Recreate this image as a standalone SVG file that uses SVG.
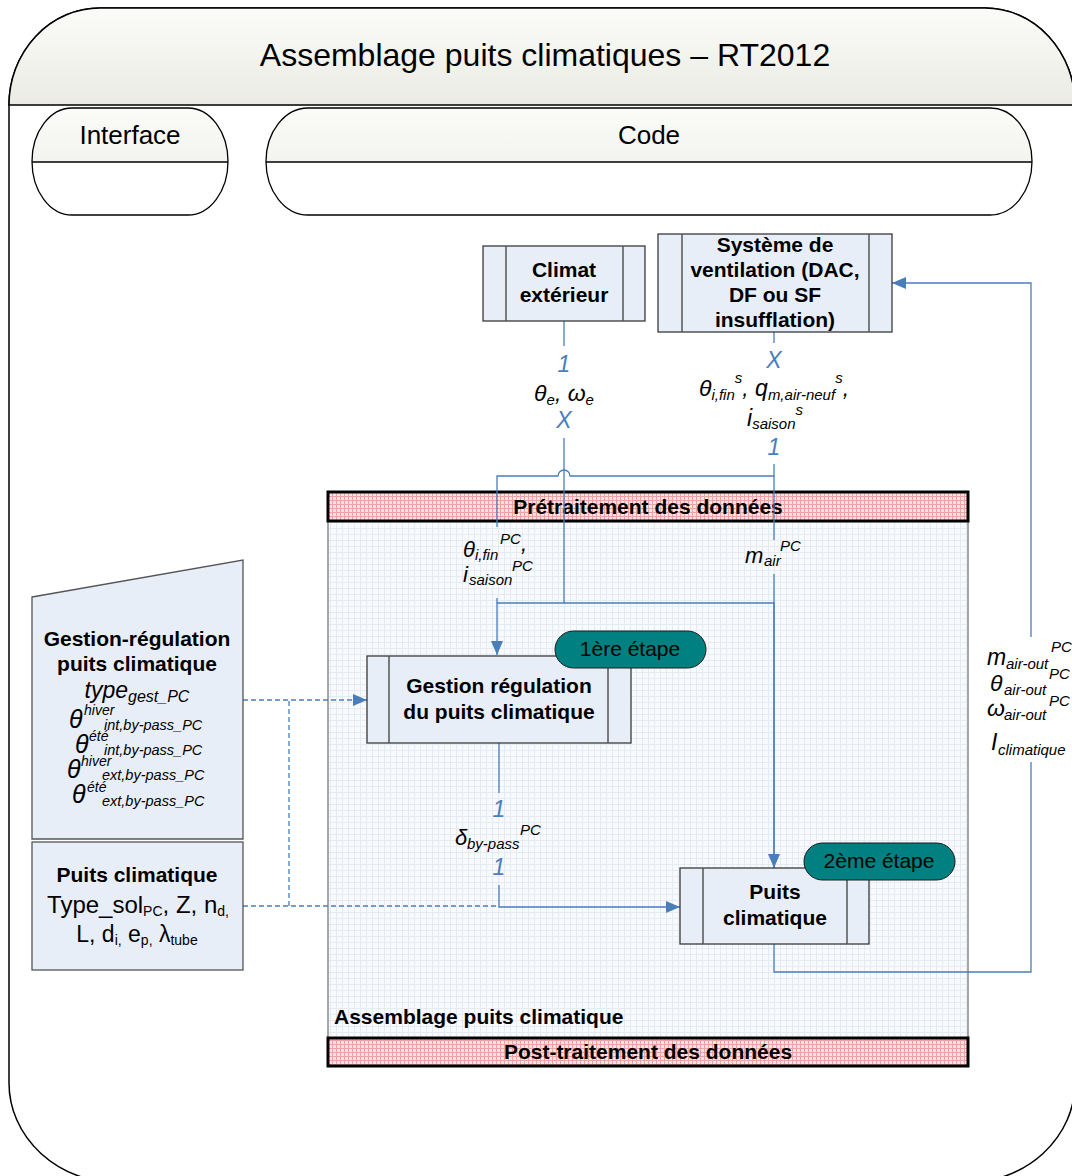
<svg xmlns="http://www.w3.org/2000/svg" width="1072" height="1176" viewBox="0 0 1072 1176">
<defs>
<style>
text{font-family:"Liberation Sans",Arial,sans-serif;fill:#000}
.b{font-weight:bold;font-size:21px}
.it{font-style:italic}
.bl{fill:#4a7ebb;font-style:italic;font-size:23px}
.conn{fill:none;stroke:#4a7ebb;stroke-width:1.3}
.dash{stroke-dasharray:5 3}
.box{fill:#e8eef8;stroke:#3a3a3a;stroke-width:1.3}
.inner{stroke:#555;stroke-width:1.5}
.pill{fill:#008080;stroke:#1a1a1a;stroke-width:1}
.band{fill:url(#pinkGrid);stroke:#000;stroke-width:3}
</style>
<linearGradient id="hdr" x1="0" y1="0" x2="0" y2="1">
<stop offset="0" stop-color="#fbfbf9"/><stop offset="1" stop-color="#ebebe4"/>
</linearGradient>
<pattern id="pinkGrid" width="4" height="4" patternUnits="userSpaceOnUse">
<rect width="4" height="4" fill="#f9e2e2"/><path d="M0 0.5H4M0.5 0V4" stroke="#e7a6a6" stroke-width="1"/>
</pattern>
<pattern id="blueGrid" width="6" height="6" patternUnits="userSpaceOnUse">
<rect width="6" height="6" fill="#f8fafd"/><path d="M0 0.5H6M0.5 0V6" stroke="#e5ebf3" stroke-width="1"/>
</pattern>
<clipPath id="laneTop"><rect x="0" y="100" width="1072" height="62"/></clipPath>
<marker id="arr" viewBox="0 0 10 10" refX="10" refY="5" markerWidth="14" markerHeight="12" markerUnits="userSpaceOnUse" orient="auto" preserveAspectRatio="none">
<path d="M0,0 L10,5 L0,10 z" fill="#4a7ebb"/>
</marker>
</defs>

<g id="pool">
<path d="M100,8 H985 A90 97 0 0 1 1075 105 V1083 A110 100 0 0 1 965 1183 H119 A110 100 0 0 1 9 1083 V105 A91 97 0 0 1 100 8 Z" fill="#fff" stroke="#000" stroke-width="1.5"/>
<path d="M9,105 A91 97 0 0 1 100 8 H985 A90 97 0 0 1 1075 105 Z" fill="url(#hdr)" stroke="#000" stroke-width="1.5"/>
<text x="545" y="66" text-anchor="middle" font-size="32">Assemblage puits climatiques – RT2012</text>
</g>

<g id="lane-interface">
<rect x="32" y="108" width="196" height="107" rx="40" ry="53.5" fill="#fff"/>
<rect x="32" y="108" width="196" height="107" rx="40" ry="53.5" fill="url(#hdr)" clip-path="url(#laneTop)"/>
<rect x="32" y="108" width="196" height="107" rx="40" ry="53.5" fill="none" stroke="#000" stroke-width="1.3"/>
<line x1="32" y1="162" x2="228" y2="162" stroke="#000" stroke-width="1.3"/>
<text x="130" y="144" text-anchor="middle" font-size="26">Interface</text>
</g>

<g id="lane-code">
<rect x="266" y="108" width="766" height="107" rx="42" ry="53.5" fill="#fff"/>
<rect x="266" y="108" width="766" height="107" rx="42" ry="53.5" fill="url(#hdr)" clip-path="url(#laneTop)"/>
<rect x="266" y="108" width="766" height="107" rx="42" ry="53.5" fill="none" stroke="#000" stroke-width="1.3"/>
<line x1="266" y1="162" x2="1032" y2="162" stroke="#000" stroke-width="1.3"/>
<text x="649" y="144" text-anchor="middle" font-size="26">Code</text>
</g>

<g id="assemblage">
<rect x="328" y="492" width="640" height="574" fill="url(#blueGrid)" stroke="#8a8a8a" stroke-width="1.5"/>
<rect x="328" y="492" width="640" height="29" class="band"/>
<text x="648" y="514" text-anchor="middle" class="b">Prétraitement des données</text>
<text x="334" y="1024" class="b">Assemblage puits climatique</text>
<rect x="328" y="1038" width="640" height="28" class="band"/>
<text x="648" y="1059" text-anchor="middle" class="b">Post-traitement des données</text>
</g>

<g id="connectors">
<path class="conn" d="M564,321 V346 M564,438 V603 H497 V655" marker-end="url(#arr)"/>
<path class="conn" d="M564,603 H774 V868" marker-end="url(#arr)"/>
<path class="conn" d="M774,332 V343 M774,464 V476 H570 A6 6 0 0 0 558 476 H497 V527 M497,598 V603"/>
<path class="conn" d="M774,476 V540 M774,574 V868"/>
<path class="conn" d="M499,743 V793 M499,885 V907 H680" marker-end="url(#arr)"/>
<path class="conn" d="M774,944 V972 H1031 V762 M1031,637 V283 H892" marker-end="url(#arr)"/>
<path class="conn dash" d="M243,700 H367" marker-end="url(#arr)"/>
<path class="conn dash" d="M243,906 H497 M289,906 V700"/>
</g>

<g id="climat-exterieur">
<rect x="483" y="246" width="162" height="75" class="box"/>
<line x1="506" y1="246" x2="506" y2="321" class="inner"/>
<line x1="623" y1="246" x2="623" y2="321" class="inner"/>
<text x="564" y="277" text-anchor="middle" class="b">Climat</text>
<text x="564" y="302" text-anchor="middle" class="b">extérieur</text>
</g>

<g id="systeme-ventilation">
<rect x="658" y="234" width="234" height="98" class="box"/>
<line x1="682" y1="234" x2="682" y2="332" class="inner"/>
<line x1="869" y1="234" x2="869" y2="332" class="inner"/>
<text x="775" y="252" text-anchor="middle" class="b">Système de</text>
<text x="775" y="277" text-anchor="middle" class="b">ventilation (DAC,</text>
<text x="775" y="302" text-anchor="middle" class="b">DF ou SF</text>
<text x="775" y="327" text-anchor="middle" class="b">insufflation)</text>
</g>

<g id="gestion-regulation">
<rect x="367" y="656" width="264" height="87" class="box"/>
<line x1="389" y1="656" x2="389" y2="743" class="inner"/>
<line x1="608" y1="656" x2="608" y2="743" class="inner"/>
<text x="499" y="693" text-anchor="middle" class="b">Gestion régulation</text>
<text x="499" y="719" text-anchor="middle" class="b">du puits climatique</text>
</g>

<g id="etape1">
<rect x="555" y="631" width="151" height="37" rx="18.5" class="pill"/>
<text x="630" y="656" text-anchor="middle" font-size="21">1ère étape</text>
</g>

<g id="puits-climatique">
<rect x="680" y="868" width="189" height="76" class="box"/>
<line x1="703" y1="868" x2="703" y2="944" class="inner"/>
<line x1="847" y1="868" x2="847" y2="944" class="inner"/>
<text x="775" y="899" text-anchor="middle" class="b">Puits</text>
<text x="775" y="925" text-anchor="middle" class="b">climatique</text>
</g>

<g id="etape2">
<rect x="804" y="843" width="151" height="37" rx="18.5" class="pill"/>
<text x="879" y="868" text-anchor="middle" font-size="21">2ème étape</text>
</g>

<g id="input-gestion-regulation">
<polygon points="32,597 243,560 243,839 32,839" class="box" style="stroke:#555"/>
<text x="137" y="646" text-anchor="middle" class="b">Gestion-régulation</text>
<text x="137" y="671" text-anchor="middle" class="b">puits climatique</text>
<text x="137" y="698" text-anchor="middle" class="it" font-size="23">type<tspan font-size="16" dy="4">gest_PC</tspan></text>
<text x="69" y="728" class="it" font-size="25">θ</text>
<text x="84" y="715" class="it" font-size="14">hiver</text>
<text x="104" y="730" class="it" font-size="14.5">int,by-pass_PC</text>
<text x="75" y="753" class="it" font-size="25">θ</text>
<text x="89" y="741" class="it" font-size="14">été</text>
<text x="104" y="755" class="it" font-size="14.5">int,by-pass_PC</text>
<text x="67" y="778" class="it" font-size="25">θ</text>
<text x="81" y="766" class="it" font-size="14">hiver</text>
<text x="102" y="780" class="it" font-size="14.5">ext,by-pass_PC</text>
<text x="72" y="803" class="it" font-size="25">θ</text>
<text x="87" y="792" class="it" font-size="14">été</text>
<text x="102" y="806" class="it" font-size="14.5">ext,by-pass_PC</text>
</g>

<g id="input-puits-climatique">
<rect x="32" y="842" width="211" height="128" class="box" style="stroke:#555"/>
<text x="137" y="882" text-anchor="middle" class="b">Puits climatique</text>
<text x="138" y="913" text-anchor="middle" font-size="24">Type_sol<tspan font-size="14" dy="3">PC</tspan><tspan dy="-3">, Z, n</tspan><tspan font-size="14" dy="3">d,</tspan></text>
<text x="137" y="942" text-anchor="middle" font-size="23">L, d<tspan font-size="14" dy="3">i,</tspan><tspan dy="-3"> e</tspan><tspan font-size="14" dy="3">p,</tspan><tspan dy="-3"> λ</tspan><tspan font-size="14" dy="3">tube</tspan></text>
</g>

<g id="labels">
<text x="564" y="372" text-anchor="middle" class="bl">1</text>
<text x="564" y="401" text-anchor="middle" class="it" font-size="23">θ<tspan font-size="15" dy="4">e</tspan><tspan dy="-4">, ω</tspan><tspan font-size="15" dy="4">e</tspan></text>
<text x="564" y="428" text-anchor="middle" class="bl">X</text>

<text x="774" y="368" text-anchor="middle" class="bl">X</text>
<text x="774" y="396" text-anchor="middle" class="it" font-size="23">θ<tspan font-size="15" dy="4">i,fin</tspan><tspan font-size="15" dy="-17">s</tspan><tspan dy="13">, q</tspan><tspan font-size="15" dy="4">m,air-neuf</tspan><tspan font-size="15" dy="-17">s</tspan><tspan dy="13">,</tspan></text>
<text x="775" y="426" text-anchor="middle" class="it" font-size="23">i<tspan font-size="15" dy="3">saison</tspan><tspan font-size="15" dy="-14">s</tspan></text>
<text x="774" y="455" text-anchor="middle" class="bl">1</text>

<text x="463" y="557" class="it" font-size="22">θ<tspan font-size="15" dy="3">i,fin</tspan></text>
<text x="500" y="544" class="it" font-size="15">PC</text>
<text x="521" y="551" class="it" font-size="22">,</text>
<text x="463" y="582" class="it" font-size="22">i</text>
<text x="469" y="585" class="it" font-size="15">saison</text>
<text x="512" y="571" class="it" font-size="15">PC</text>

<text x="745" y="563" class="it" font-size="22">m</text>
<text x="764" y="566" class="it" font-size="15">air</text>
<text x="780" y="551" class="it" font-size="15">PC</text>

<text x="499" y="817" text-anchor="middle" class="bl">1</text>
<text x="455" y="845" class="it" font-size="22">δ</text>
<text x="467" y="849" class="it" font-size="15">by-pass</text>
<text x="520" y="835" class="it" font-size="15">PC</text>
<text x="499" y="875" text-anchor="middle" class="bl">1</text>

<text x="987" y="665" class="it" font-size="23">m</text>
<text x="1006" y="669" class="it" font-size="15">air-out</text>
<text x="1051" y="652" class="it" font-size="15">PC</text>
<text x="990" y="691" class="it" font-size="23">θ</text>
<text x="1004" y="695" class="it" font-size="15">air-out</text>
<text x="1049" y="679" class="it" font-size="15">PC</text>
<text x="987" y="716" class="it" font-size="23">ω</text>
<text x="1004" y="720" class="it" font-size="15">air-out</text>
<text x="1049" y="706" class="it" font-size="15">PC</text>
<text x="991" y="750" class="it" font-size="23">I</text>
<text x="998" y="755" class="it" font-size="15">climatique</text>
</g>
</svg>
